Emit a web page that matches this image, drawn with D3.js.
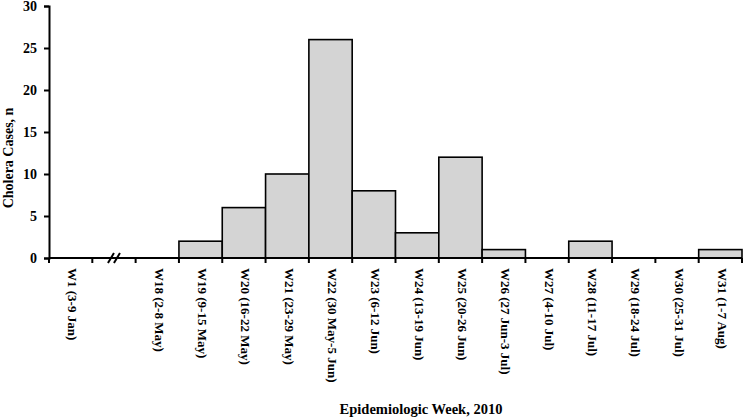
<!DOCTYPE html>
<html>
<head>
<meta charset="utf-8">
<script src="https://cdn.jsdelivr.net/npm/d3@7"></script>
<style>
  body { margin: 0; background: #fff; }
  text { font-family: "Liberation Serif", "Times New Roman", serif; font-weight: bold; }
</style>
</head>
<body>
<div id="chart"></div>
<script>
// week keys in axis order; "gap" is the empty slot holding the axis break
var weeks = ["W1", "gap", "W18", "W19", "W20", "W21", "W22", "W23", "W24",
             "W25", "W26", "W27", "W28", "W29", "W30", "W31"];
var weekLabels = ["W1 (3-9 Jan)", "", "W18 (2-8 May)", "W19 (9-15 May)", "W20 (16-22 May)",
                  "W21 (23-29 May)", "W22 (30 May-5 Jun)", "W23 (6-12 Jun)", "W24 (13-19 Jun)",
                  "W25 (20-26 Jun)", "W26 (27 Jun-3 Jul)", "W27 (4-10 Jul)", "W28 (11-17 Jul)",
                  "W29 (18-24 Jul)", "W30 (25-31 Jul)", "W31 (1-7 Aug)"];
var cases = [0, null, 0, 2, 6, 10, 26, 8, 3, 12, 1, 0, 2, 0, 0, 1];
var yTicks = [0, 5, 10, 15, 20, 25, 30];

var width = 745, height = 420;
var x0 = 49, x1 = 742, yBase = 258, yTop = 6;

var svg = d3.select("#chart").append("svg")
  .attr("width", width)
  .attr("height", height);

var x = d3.scaleBand().domain(weeks).range([x0, x1]).padding(0);
var y = d3.scaleLinear().domain([0, 30]).range([yBase, yTop]);

var data = weeks.map(function (w, i) { return { week: w, label: weekLabels[i], n: cases[i] }; });

// bars
svg.selectAll("rect.bar")
  .data(data.filter(function (d) { return d.n > 0; }))
  .enter().append("rect")
  .attr("class", "bar")
  .attr("x", function (d) { return x(d.week); })
  .attr("y", function (d) { return y(d.n); })
  .attr("width", x.bandwidth())
  .attr("height", function (d) { return y(0) - y(d.n); })
  .style("fill", "#d4d4d4")
  .style("stroke", "#000")
  .style("stroke-width", 1.6);

// y axis
var yAxis = svg.append("g")
  .attr("transform", "translate(" + x0 + ",0)")
  .call(d3.axisLeft(y).tickValues(yTicks).tickSize(5).tickPadding(7));
yAxis.select(".domain").attr("stroke-width", 2);
yAxis.selectAll(".tick line").attr("stroke-width", 2);
yAxis.selectAll(".tick text").style("font-size", "14px").attr("fill", "#000");

// x axis: ticks at band edges, going down
var edges = weeks.map(function (w) { return x(w); }).concat([x1]);
svg.append("line")
  .attr("x1", x0).attr("x2", x1)
  .attr("y1", yBase).attr("y2", yBase)
  .attr("stroke", "#000").attr("stroke-width", 2);
svg.selectAll("line.xtick")
  .data(edges)
  .enter().append("line")
  .attr("class", "xtick")
  .attr("x1", function (d) { return d; }).attr("x2", function (d) { return d; })
  .attr("y1", yBase).attr("y2", yBase + 5)
  .attr("stroke", "#000").attr("stroke-width", 2);

// axis break marks in the gap slot
var bx = x("gap") + x.bandwidth() / 2;
[-3, 3].forEach(function (dx) {
  svg.append("line")
    .attr("x1", bx + dx - 3).attr("y1", yBase + 5)
    .attr("x2", bx + dx + 3).attr("y2", yBase - 5)
    .attr("stroke", "#000").attr("stroke-width", 2);
});

// x tick labels, rotated to read top-down
svg.selectAll("text.xlabel")
  .data(data.filter(function (d) { return d.label; }))
  .enter().append("text")
  .attr("class", "xlabel")
  .attr("transform", function (d) {
    return "translate(" + (x(d.week) + x.bandwidth() / 2 + 2) + "," + (yBase + 10) + ") rotate(90)";
  })
  .attr("dominant-baseline", "central")
  .style("font-size", "13px")
  .text(function (d) { return d.label; });

// axis titles
svg.append("text")
  .attr("transform", "translate(8,158) rotate(-90)")
  .attr("text-anchor", "middle")
  .attr("dominant-baseline", "central")
  .style("font-size", "14px")
  .text("Cholera Cases, n");

svg.append("text")
  .attr("x", 421)
  .attr("y", 414)
  .attr("text-anchor", "middle")
  .style("font-size", "14.5px")
  .text("Epidemiologic Week, 2010");
</script>
</body>
</html>
